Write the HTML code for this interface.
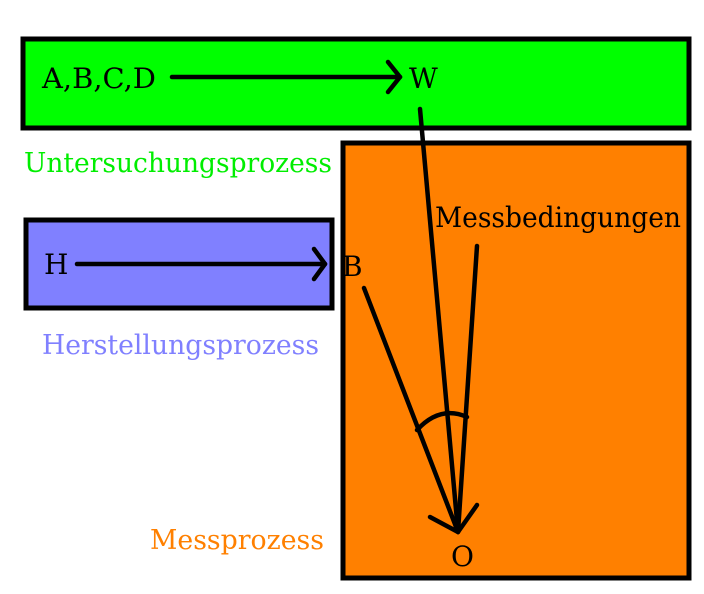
<!DOCTYPE html>
<html><head><style>html,body{margin:0;padding:0;background:#fff}svg{display:block}</style></head>
<body>
<svg width="704" height="594" viewBox="0 0 704 594" xmlns="http://www.w3.org/2000/svg" font-family="'DejaVu Serif','Liberation Serif',serif" font-size="28">
<rect x="23" y="39" width="666" height="89" fill="#00ff00" stroke="#000" stroke-width="5"/>
<rect x="343" y="143" width="346" height="435" fill="#ff8000" stroke="#000" stroke-width="5"/>
<rect x="26" y="220" width="306" height="88" fill="#8080ff" stroke="#000" stroke-width="5"/>
<g stroke="#000" stroke-width="4.5" fill="none" stroke-linecap="round" stroke-linejoin="round">
<line x1="172" y1="77" x2="400" y2="77"/>
<polyline points="388,62 400,77 388,92"/>
<line x1="77" y1="264" x2="325" y2="264"/>
<polyline points="314,249 325,264 314,279"/>
<line x1="420" y1="109" x2="458" y2="532"/>
<line x1="477" y1="246" x2="458" y2="532"/>
<line x1="364" y1="288" x2="458" y2="532"/>
<polyline points="430,517 458,532 477,505"/>
<path d="M417,430 Q440,405 467,417"/>
</g>
<g fill="#000">
<text x="42" y="88" textLength="114" lengthAdjust="spacingAndGlyphs">A,B,C,D</text>
<text x="409" y="88">W</text>
<text x="44" y="274">H</text>
<text x="342" y="276">B</text>
<text x="435" y="227" textLength="246" lengthAdjust="spacingAndGlyphs">Messbedingungen</text>
<text x="451" y="566">O</text>
</g>
<text x="24" y="172" fill="#00ee00" font-size="27" textLength="308" lengthAdjust="spacingAndGlyphs">Untersuchungsprozess</text>
<text x="42" y="354" fill="#8080ff" font-size="27" textLength="277" lengthAdjust="spacingAndGlyphs">Herstellungsprozess</text>
<text x="150" y="549" fill="#ff8000" font-size="27" textLength="174" lengthAdjust="spacingAndGlyphs">Messprozess</text>
</svg>
</body></html>
